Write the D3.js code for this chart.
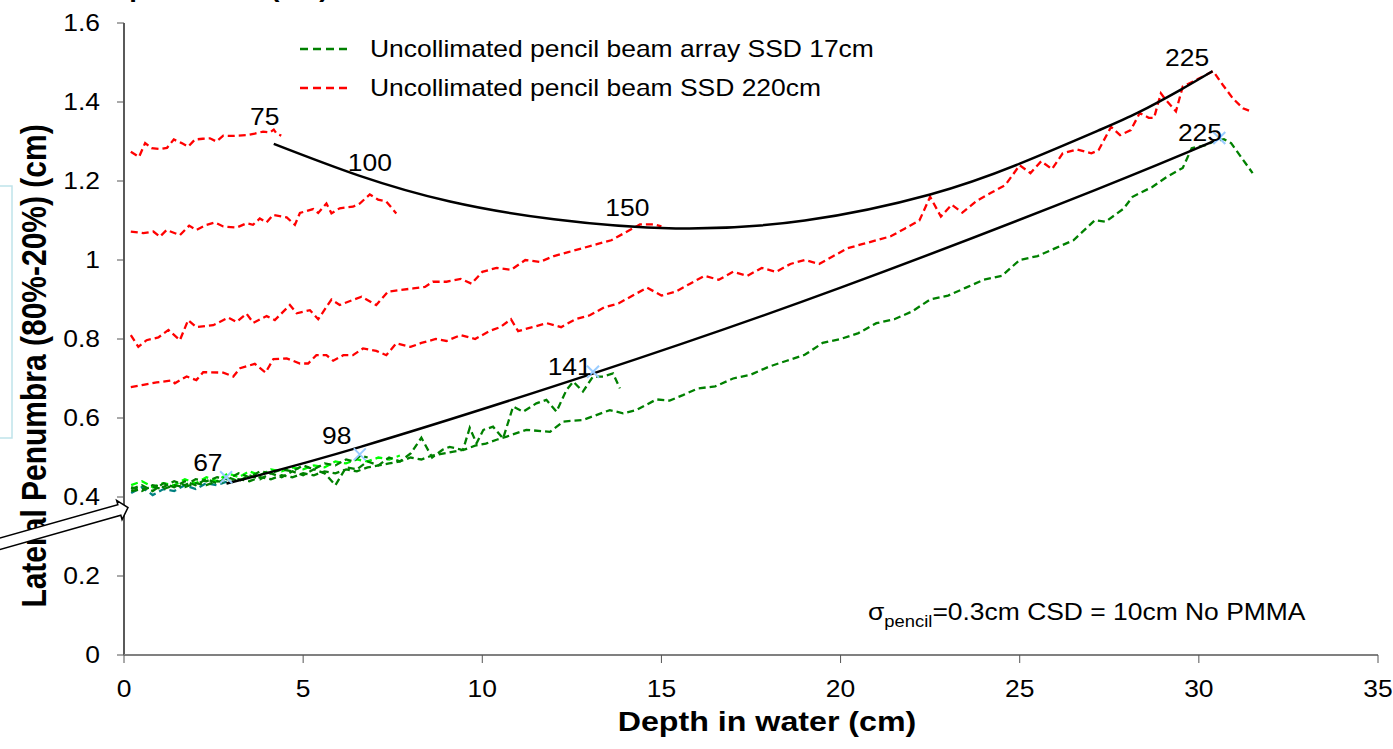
<!DOCTYPE html>
<html>
<head>
<meta charset="utf-8">
<script src="https://cdn.jsdelivr.net/npm/d3@7"></script>
<style>
  html, body { margin: 0; padding: 0; background: #fff; }
  svg { display: block; }
  text { font-family: "Liberation Sans", Arial, sans-serif; fill: #000; }
</style>
</head>
<body>
<svg id="chart" width="1393" height="749"></svg>
<script>
// ---- axis ticks ----
const xTicks = [0, 5, 10, 15, 20, 25, 30, 35];
const yTicks = [0, 0.2, 0.4, 0.6, 0.8, 1, 1.2, 1.4, 1.6];

// ---- measured penumbra vs depth: [depth cm, penumbra cm] ----
// SSD 220cm, single pencil beam at four source distances
const red75 = [[0.19,1.274],[0.42,1.261],[0.59,1.296],[0.77,1.283],[1.0,1.281],[1.2,1.284],[1.39,1.305],[1.61,1.296],[1.79,1.287],[1.98,1.305],[2.2,1.307],[2.4,1.308],[2.58,1.300],[2.77,1.315],[3.0,1.314],[3.2,1.315],[3.42,1.316],[3.65,1.320],[3.88,1.325],[4.07,1.323],[4.18,1.330],[4.26,1.320],[4.39,1.315]];
const red100 = [[0.19,1.072],[0.54,1.068],[0.82,1.072],[1.0,1.059],[1.19,1.076],[1.56,1.063],[1.82,1.087],[2.02,1.076],[2.3,1.089],[2.54,1.095],[2.77,1.085],[3.14,1.082],[3.42,1.093],[3.6,1.089],[3.79,1.105],[3.98,1.095],[4.16,1.114],[4.54,1.108],[4.77,1.089],[4.91,1.119],[5.28,1.129],[5.42,1.119],[5.65,1.143],[5.79,1.118],[6.02,1.131],[6.39,1.135],[6.58,1.143],[6.86,1.166],[7.09,1.153],[7.32,1.148],[7.6,1.118]];
const red150 = [[0.19,0.810],[0.4,0.780],[0.63,0.797],[0.96,0.804],[1.24,0.823],[1.56,0.797],[1.79,0.848],[2.02,0.830],[2.49,0.835],[2.91,0.854],[3.14,0.843],[3.42,0.864],[3.61,0.841],[3.98,0.858],[4.21,0.848],[4.63,0.886],[4.82,0.865],[5.19,0.873],[5.42,0.850],[5.79,0.900],[6.02,0.886],[6.39,0.899],[6.63,0.907],[7.04,0.886],[7.37,0.920],[7.7,0.924],[8.07,0.928],[8.4,0.932],[8.62,0.945],[9.0,0.945],[9.4,0.952],[9.7,0.940],[10.0,0.970],[10.4,0.980],[10.8,0.975],[11.2,1.000],[11.6,0.995],[12.0,1.010],[12.4,1.020],[12.8,1.030],[13.2,1.040],[13.6,1.050],[14.0,1.070],[14.4,1.090],[14.8,1.090],[15.0,1.085]];
const red225 = [[0.19,0.678],[0.54,0.684],[0.91,0.690],[1.33,0.695],[1.42,0.688],[1.75,0.705],[2.02,0.696],[2.21,0.716],[2.77,0.715],[3.05,0.705],[3.24,0.726],[3.65,0.737],[3.95,0.715],[4.17,0.749],[4.54,0.751],[4.91,0.738],[5.14,0.738],[5.37,0.759],[5.65,0.759],[5.84,0.745],[6.12,0.759],[6.39,0.759],[6.67,0.776],[7.04,0.770],[7.32,0.759],[7.6,0.789],[8.0,0.780],[8.3,0.790],[8.7,0.800],[9.0,0.795],[9.4,0.810],[9.8,0.800],[10.2,0.820],[10.5,0.830],[10.8,0.850],[11.0,0.820],[11.4,0.830],[11.8,0.840],[12.2,0.830],[12.6,0.850],[13.0,0.860],[13.4,0.880],[13.8,0.890],[14.2,0.910],[14.6,0.930],[15.0,0.910],[15.4,0.920],[15.8,0.940],[16.2,0.960],[16.6,0.950],[17.0,0.970],[17.4,0.960],[17.8,0.980],[18.2,0.970],[18.6,0.990],[19.0,1.000],[19.4,0.990],[19.8,1.010],[20.2,1.030],[20.6,1.040],[21.0,1.050],[21.4,1.060],[21.8,1.080],[22.2,1.100],[22.5,1.160],[22.8,1.110],[23.1,1.140],[23.4,1.120],[23.8,1.150],[24.2,1.170],[24.6,1.190],[25.0,1.240],[25.3,1.220],[25.6,1.250],[25.9,1.230],[26.2,1.270],[26.6,1.280],[27.0,1.270],[27.2,1.278],[27.55,1.337],[27.8,1.316],[28.1,1.329],[28.35,1.372],[28.6,1.360],[28.75,1.360],[28.94,1.422],[29.08,1.405],[29.36,1.376],[29.55,1.439],[29.84,1.452],[30.1,1.464],[30.4,1.478],[30.67,1.443],[30.95,1.409],[31.23,1.384],[31.4,1.378]];

// SSD 17cm, pencil beam array at several source distances
const green225 = [[0.2,0.415],[0.5,0.420],[0.8,0.425],[1.1,0.420],[1.4,0.430],[1.7,0.425],[2.0,0.435],[2.3,0.430],[2.6,0.440],[2.9,0.435],[3.2,0.445],[3.5,0.440],[3.8,0.450],[4.1,0.445],[4.4,0.455],[4.7,0.450],[5.0,0.460],[5.3,0.455],[5.6,0.465],[5.9,0.460],[6.2,0.470],[6.5,0.465],[6.8,0.475],[7.1,0.480],[7.4,0.485],[7.7,0.490],[8.0,0.500],[8.3,0.495],[8.6,0.505],[8.9,0.510],[9.2,0.515],[9.5,0.520],[9.8,0.530],[10.1,0.535],[10.4,0.545],[10.68,0.553],[11.23,0.570],[11.89,0.565],[12.26,0.591],[12.81,0.595],[13.56,0.620],[13.93,0.612],[14.3,0.620],[14.86,0.647],[15.23,0.644],[15.6,0.658],[16.02,0.675],[16.5,0.680],[17.0,0.700],[17.5,0.710],[18.0,0.730],[18.5,0.745],[19.0,0.760],[19.5,0.790],[20.0,0.800],[20.5,0.815],[21.0,0.840],[21.5,0.850],[22.0,0.870],[22.5,0.900],[23.0,0.910],[23.5,0.930],[24.0,0.950],[24.5,0.960],[25.0,1.000],[25.5,1.010],[26.0,1.030],[26.5,1.050],[27.1,1.101],[27.4,1.097],[27.9,1.130],[28.15,1.160],[28.7,1.185],[29.1,1.210],[29.55,1.233],[29.8,1.283],[30.2,1.291],[30.4,1.300],[30.7,1.306],[30.9,1.296],[31.2,1.258],[31.5,1.220]];
const green141 = [[0.2,0.420],[0.5,0.430],[0.8,0.415],[1.1,0.435],[1.4,0.425],[1.7,0.440],[2.0,0.430],[2.3,0.445],[2.6,0.435],[2.9,0.450],[3.2,0.440],[3.5,0.455],[3.8,0.445],[4.1,0.460],[4.4,0.450],[4.7,0.465],[5.0,0.455],[5.3,0.470],[5.6,0.460],[5.9,0.430],[6.2,0.475],[6.5,0.470],[6.8,0.490],[7.1,0.480],[7.4,0.500],[7.7,0.490],[8.0,0.510],[8.3,0.550],[8.6,0.500],[8.9,0.520],[9.09,0.527],[9.46,0.519],[9.65,0.575],[9.84,0.536],[10.03,0.570],[10.3,0.578],[10.58,0.548],[10.86,0.629],[11.14,0.616],[11.51,0.637],[11.79,0.646],[12.07,0.616],[12.35,0.671],[12.54,0.692],[12.81,0.667],[13.09,0.705],[13.37,0.705],[13.65,0.713],[13.84,0.675]];
const green98 = [[0.2,0.425],[0.5,0.415],[0.8,0.430],[1.1,0.425],[1.4,0.440],[1.7,0.430],[2.0,0.445],[2.3,0.440],[2.6,0.450],[2.9,0.445],[3.2,0.460],[3.5,0.450],[3.8,0.465],[4.1,0.460],[4.4,0.470],[4.7,0.465],[5.0,0.480],[5.3,0.470],[5.6,0.485],[5.9,0.480],[6.2,0.495],[6.4,0.490],[6.6,0.505],[6.8,0.500]];
const lime67 = [[0.2,0.430],[0.5,0.440],[0.8,0.425],[1.1,0.435],[1.4,0.430],[1.7,0.445],[2.0,0.435],[2.3,0.450],[2.6,0.440],[2.9,0.460],[3.2,0.450],[3.5,0.465],[3.8,0.455],[4.1,0.470],[4.4,0.465],[4.7,0.475],[5.0,0.470],[5.3,0.480],[5.6,0.475],[5.9,0.490],[6.2,0.485],[6.5,0.495],[6.8,0.490],[7.1,0.500],[7.4,0.495],[7.7,0.505]];
const teal67 = [[0.2,0.410],[0.5,0.425],[0.8,0.405],[1.1,0.420],[1.4,0.415],[1.7,0.430],[2.0,0.420],[2.3,0.435],[2.6,0.430],[2.9,0.440]];

// penumbra at the distal end of each array curve
const crossMarks = [[2.85,0.45],[6.58,0.508],[13.09,0.717],[30.57,1.309]];

// smooth trends through the distal-end penumbrae
const trendArray = [[2.86,0.434],[6.6,0.527],[13.1,0.713],[20,0.93],[27.1,1.177],[30.5,1.304]];
const trendSingle = [[4.18,1.294],[6.58,1.213],[9.1,1.148],[12,1.103],[15.4,1.080],[19,1.100],[22.5,1.166],[25,1.244],[27.2,1.328],[28.3,1.373],[29.45,1.429],[30.38,1.478]];

// source distance labels, anchored in data units
const distLabels = [
  {t: "75",  d: 3.93,  p: 1.342},
  {t: "100", d: 6.86,  p: 1.225},
  {t: "150", d: 14.05, p: 1.111},
  {t: "225", d: 29.67, p: 1.491},
  {t: "225", d: 30.03, p: 1.301},
  {t: "141", d: 12.44, p: 0.709},
  {t: "98",  d: 5.94,  p: 0.534},
  {t: "67",  d: 2.34,  p: 0.466}
];

const legendItems = [
  {label: "Uncollimated pencil beam array SSD 17cm", color: "#008000"},
  {label: "Uncollimated pencil beam SSD 220cm", color: "#ff0000"}
];

// ---- drawing ----
const svg = d3.select("#chart");
const SX = 1.15;      // horizontal glyph stretch
const FS = 23;

const x = d3.scaleLinear().domain([0, 35]).range([124, 1378]);
const y = d3.scaleLinear().domain([0, 1.6]).range([655, 23]);

function txt(g, s, px, py, opts = {}) {
  const t = g.append("text")
    .attr("transform", `translate(${px},${py}) scale(${SX},1)` + (opts.rot ? ` rotate(${opts.rot})` : ""))
    .attr("font-size", opts.size || FS)
    .attr("text-anchor", opts.anchor || "start")
    .attr("font-weight", opts.bold ? "bold" : "normal")
    .text(s);
  return t;
}

// title line above the plot, mostly off the top edge
txt(svg, "Lateral penumbra (cm)", 31, -3, {size: 24, bold: true});

// side frame
svg.append("rect").attr("x", -5).attr("y", 186).attr("width", 17).attr("height", 252)
  .attr("fill", "none").attr("stroke", "#bfe3ea").attr("stroke-width", 1.5);

// y axis
const yAxis = svg.append("g");
yAxis.append("line").attr("x1", x(0)).attr("x2", x(0)).attr("y1", y(1.6)).attr("y2", y(0))
  .attr("stroke", "#000").attr("stroke-width", 1.3);
yTicks.forEach(v => {
  yAxis.append("line").attr("x1", x(0) - 7).attr("x2", x(0)).attr("y1", y(v)).attr("y2", y(v))
    .attr("stroke", "#555").attr("stroke-width", 1);
  txt(yAxis, d3.format("~g")(v), 100, y(v) + 8, {anchor: "end"});
});

// x axis
const xAxis = svg.append("g");
xAxis.append("line").attr("x1", x(0)).attr("x2", x(35)).attr("y1", y(0)).attr("y2", y(0))
  .attr("stroke", "#808080").attr("stroke-width", 2);
xTicks.forEach(v => {
  xAxis.append("line").attr("x1", x(v)).attr("x2", x(v)).attr("y1", y(0)).attr("y2", y(0) + 8)
    .attr("stroke", "#555").attr("stroke-width", 1);
  txt(xAxis, String(v), x(v), 697, {anchor: "middle"});
});

// axis titles
txt(svg, "Depth in water (cm)", 767, 731, {size: 28, bold: true, anchor: "middle"});
txt(svg, "Lateral Penumbra (80%-20%) (cm)", 46, 366, {size: 30, bold: true, anchor: "middle", rot: -90});

// measured curves
const line = d3.line().x(d => x(d[0])).y(d => y(d[1]));
const curves = [
  {data: teal67, color: "#008080"},
  {data: lime67, color: "#00ff00"},
  {data: green98, color: "#008000"},
  {data: green141, color: "#008000"},
  {data: green225, color: "#008000"},
  {data: red75, color: "#ff0000"},
  {data: red100, color: "#ff0000"},
  {data: red150, color: "#ff0000"},
  {data: red225, color: "#ff0000"}
];
svg.append("g").selectAll("path").data(curves).join("path")
  .attr("d", c => line(c.data))
  .attr("fill", "none")
  .attr("stroke", c => c.color)
  .attr("stroke-width", 2.3)
  .attr("stroke-dasharray", "7,4");

// trend curves
const smooth = d3.line().x(d => x(d[0])).y(d => y(d[1])).curve(d3.curveNatural);
svg.append("g").selectAll("path").data([trendArray, trendSingle]).join("path")
  .attr("d", smooth)
  .attr("fill", "none").attr("stroke", "#000").attr("stroke-width", 2.5);

// distal-end markers
const crossG = svg.append("g").attr("stroke", "#99ccff").attr("stroke-width", 2);
crossMarks.forEach(([d, p]) => {
  const cx = x(d), cy = y(p), r = 6;
  crossG.append("line").attr("x1", cx - r).attr("y1", cy - r).attr("x2", cx + r).attr("y2", cy + r);
  crossG.append("line").attr("x1", cx - r).attr("y1", cy + r).attr("x2", cx + r).attr("y2", cy - r);
});

// distance labels
const lab = svg.append("g");
distLabels.forEach(l => txt(lab, l.t, x(l.d), y(l.p), {anchor: "middle"}));

// legend
const leg = svg.append("g");
legendItems.forEach((it, i) => {
  const ly = 49 + i * 39;
  leg.append("line").attr("x1", 300).attr("x2", 350).attr("y1", ly).attr("y2", ly)
    .attr("stroke", it.color).attr("stroke-width", 2.3).attr("stroke-dasharray", "8,5");
  txt(leg, it.label, 370, ly + 8);
});

// beam parameters note
const note = svg.append("text")
  .attr("transform", `translate(868,620) scale(${SX},1)`)
  .attr("font-size", FS);
note.append("tspan").text("σ");
note.append("tspan").attr("font-size", 16).attr("dy", 7).text("pencil");
note.append("tspan").attr("dy", -7).text("=0.3cm CSD = 10cm No PMMA");

// hollow arrow pointing at the surface penumbra
const tip = [128, 507.5], ang = -15.8, L = 150;
const ar = svg.append("g")
  .attr("transform", `translate(${tip[0]},${tip[1]}) rotate(${ang})`);
ar.append("path")
  .attr("d", d3.line()([[-L,-5.5],[-9,-5.5],[-9,-10],[0,0],[-9,10],[-9,5.5],[-L,5.5]]))
  .attr("fill", "#fff").attr("stroke", "#000").attr("stroke-width", 1.5);
</script>
</body>
</html>
